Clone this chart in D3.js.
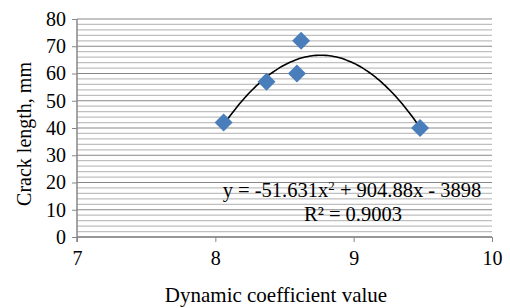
<!DOCTYPE html>
<html>
<head>
<meta charset="utf-8">
<script src="https://cdn.jsdelivr.net/npm/d3@7"></script>
<style>
  body { margin: 0; background: #fff; }
  text { font-family: "Liberation Serif", "Times New Roman", serif; fill: #000; }
</style>
</head>
<body>
<svg id="chart" width="510" height="308"></svg>
<script>
// data
const dynCoef = [8.06, 8.37, 8.59, 8.62, 9.48];
const crackLen = [42, 57, 60, 72, 40];
const xTicks = [7, 8, 9, 10];
const yTicks = [0, 10, 20, 30, 40, 50, 60, 70, 80];
// Excel polynomial trendline (order 2)
const coefs = [-51.631, 904.88, -3898];
const r2 = 0.9003;

const svg = d3.select("#chart");

// scales
const x = d3.scaleLinear().domain([7, 10]).range([77, 492]);
const y = d3.scaleLinear().domain([0, 80]).range([237, 19]);

// minor gridlines every 2 mm
const minor = d3.range(0, 81, 2).filter((v) => v % 10 !== 0);
svg.append("g")
  .selectAll("line")
  .data(minor)
  .join("line")
  .attr("x1", x(7)).attr("x2", x(10))
  .attr("y1", (d) => y(d)).attr("y2", (d) => y(d))
  .attr("stroke", "#bfbfbf")
  .attr("stroke-width", 1.2);

// major gridlines
svg.append("g")
  .selectAll("line")
  .data(yTicks)
  .join("line")
  .attr("x1", x(7)).attr("x2", x(10))
  .attr("y1", (d) => y(d)).attr("y2", (d) => y(d))
  .attr("stroke", "#878787")
  .attr("stroke-width", 1.2);

// y axis
const yAxis = svg.append("g")
  .attr("transform", `translate(${x(7)},0)`)
  .call(d3.axisLeft(y).tickValues(yTicks).tickSize(5).tickPadding(6).tickFormat(d3.format("d")))
  .attr("font-family", "Liberation Serif")
  .attr("font-size", 20);
yAxis.select(".domain").attr("stroke", "#878787").attr("stroke-width", 1.5)
  .attr("d", `M0,${y(80)}V${y(0) + 5}`);
yAxis.selectAll(".tick line").attr("stroke", "#878787");

// x axis
const xAxis = svg.append("g")
  .attr("transform", `translate(0,${y(0)})`)
  .call(d3.axisBottom(x).tickValues(xTicks).tickSize(5).tickPadding(9).tickFormat(d3.format("d")))
  .attr("font-family", "Liberation Serif")
  .attr("font-size", 20);
xAxis.select(".domain").attr("stroke", "#878787").attr("stroke-width", 1.5)
  .attr("d", `M${x(7)},0H${x(10)}`);
xAxis.selectAll(".tick line").attr("stroke", "#878787");

// trendline between the smallest and largest x values
const poly = (v) => coefs[0] * v * v + coefs[1] * v + coefs[2];
const [xMin, xMax] = d3.extent(dynCoef);
const trend = d3.range(0, 101).map((i) => xMin + (xMax - xMin) * i / 100);
svg.append("path")
  .datum(trend)
  .attr("fill", "none")
  .attr("stroke", "#000")
  .attr("stroke-width", 1.6)
  .attr("d", d3.line().x((d) => x(d)).y((d) => y(poly(d))).curve(d3.curveBasis));

// diamond markers
const points = dynCoef.map((v, i) => ({ x: v, y: crackLen[i] }));
svg.append("g")
  .selectAll("path")
  .data(points)
  .join("path")
  .attr("transform", (d) => `translate(${x(d.x)},${y(d.y)})`)
  .attr("d", "M0,-9L9,0L0,9L-9,0Z")
  .attr("fill", "#4a7ebb");

// equation labels
const eq = svg.append("text")
  .attr("x", 352).attr("y", 197)
  .attr("text-anchor", "middle")
  .style("font-size", "20.5px");
eq.append("tspan").text(`y = ${coefs[0]}x`);
eq.append("tspan").attr("dy", -7).style("font-size", "13px").text("2");
eq.append("tspan").attr("dy", 7)
  .text(` + ${coefs[1]}x - ${Math.abs(coefs[2])}`);

svg.append("text")
  .attr("x", 353).attr("y", 221)
  .attr("text-anchor", "middle")
  .style("font-size", "20.5px")
  .text(`R² = ${r2.toFixed(4)}`);

// axis titles
svg.append("text")
  .attr("x", 276).attr("y", 302)
  .attr("text-anchor", "middle")
  .style("font-size", "21px")
  .text("Dynamic coefficient value");

svg.append("text")
  .attr("transform", "translate(31,134) rotate(-90)")
  .attr("text-anchor", "middle")
  .style("font-size", "20px")
  .text("Crack length, mm");
</script>
</body>
</html>
